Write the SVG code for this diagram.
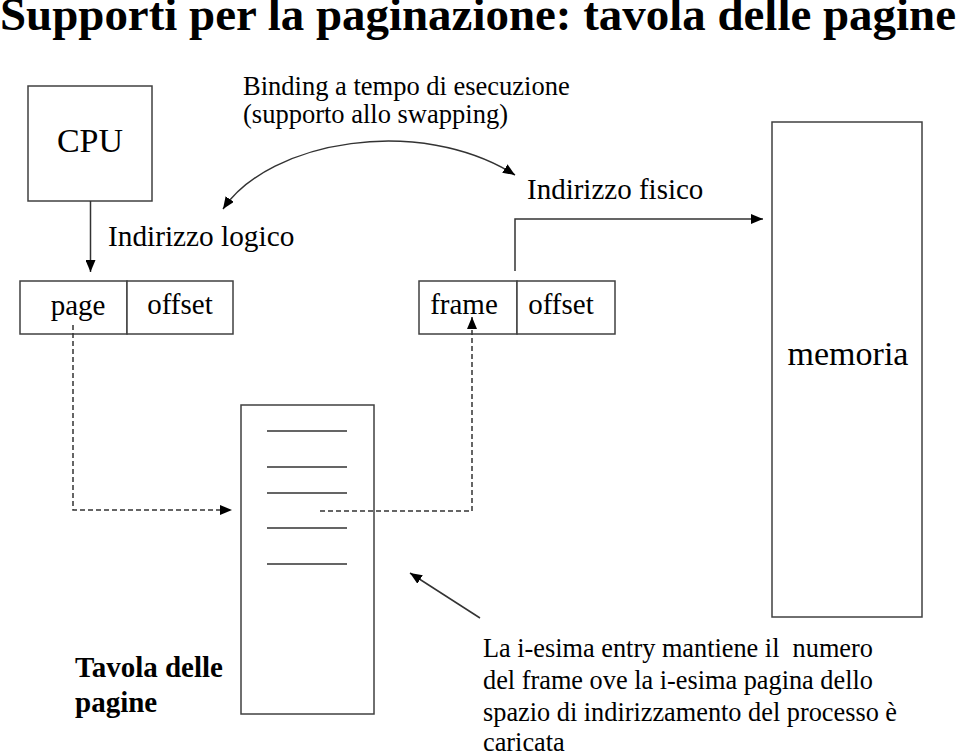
<svg xmlns="http://www.w3.org/2000/svg" width="960" height="753" viewBox="0 0 960 753">
<style>
.box{fill:#fff;stroke:#404040;stroke-width:1.5}
.ln{fill:none;stroke:#333;stroke-width:1.5}
.dash{fill:none;stroke:#333;stroke-width:1.5;stroke-dasharray:5,3}
.t{font-family:"Liberation Serif","Times New Roman",serif;fill:#000}
.b{font-weight:bold}
</style>
<defs>
<marker id="ah" viewBox="0 0 12 10" refX="12" refY="5" markerWidth="12" markerHeight="10" markerUnits="userSpaceOnUse" orient="auto-start-reverse">
<path d="M0,0 L12,5 L0,10 z" fill="#000"/>
</marker>
</defs>
<rect width="960" height="753" fill="#fff"/>
<text class="t b" x="0" y="30" font-size="46" textLength="956" lengthAdjust="spacingAndGlyphs">Supporti per la paginazione: tavola delle pagine</text>

<g id="cpu">
<rect class="box" x="28" y="86" width="124" height="115"/>
<text class="t" x="90" y="152" font-size="34" text-anchor="middle">CPU</text>
</g>

<g id="binding-label">
<text class="t" x="243" y="95" font-size="26.5">Binding a tempo di esecuzione</text>
<text class="t" x="243" y="123" font-size="26.5">(supporto allo swapping)</text>
</g>

<g id="logical-label">
<text class="t" x="108" y="246" font-size="29.3">Indirizzo logico</text>
</g>

<g id="physical-label">
<text class="t" x="527" y="199" font-size="29">Indirizzo fisico</text>
</g>

<g id="logical-address">
<rect class="box" x="20" y="281" width="107" height="53"/>
<rect class="box" x="127" y="281" width="106" height="53"/>
<text class="t" x="78" y="315" font-size="29" text-anchor="middle">page</text>
<text class="t" x="180" y="314" font-size="29" text-anchor="middle">offset</text>
</g>

<g id="physical-address">
<rect class="box" x="419" y="281" width="98" height="53"/>
<rect class="box" x="517" y="281" width="98" height="53"/>
<text class="t" x="464" y="314" font-size="29" text-anchor="middle">frame</text>
<text class="t" x="561" y="314" font-size="29" text-anchor="middle">offset</text>
</g>

<g id="memoria">
<rect class="box" x="772" y="122" width="150" height="495"/>
<text class="t" x="848" y="365" font-size="34" text-anchor="middle">memoria</text>
</g>

<g id="page-table">
<rect class="box" x="241" y="405" width="133" height="309"/>
<path class="ln" d="M267,431 H347 M267,467 H347 M267,493 H347 M267,528 H347 M267,564 H347"/>
</g>

<g id="page-table-label">
<text class="t b" x="75" y="677" font-size="29">Tavola delle</text>
<text class="t b" x="75" y="712" font-size="29">pagine</text>
</g>

<g id="entry-note">
<text class="t" x="483" y="657" font-size="26.3" xml:space="preserve">La i-esima entry mantiene il  numero</text>
<text class="t" x="483" y="689" font-size="26.3">del frame ove la i-esima pagina dello</text>
<text class="t" x="483" y="721" font-size="26.3">spazio di indirizzamento del processo è</text>
<text class="t" x="483" y="751" font-size="26.3">caricata</text>
</g>

<g id="connectors">
<path class="ln" d="M90.5,201 V272" marker-end="url(#ah)"/>
<path class="ln" d="M223,209 C270,140 420,115 515,175" marker-start="url(#ah)" marker-end="url(#ah)"/>
<path class="ln" d="M515,271 V219 H763" marker-end="url(#ah)"/>
<path class="dash" d="M73,325 V510 H232" marker-end="url(#ah)"/>
<path class="dash" d="M320,511 H472 V317" marker-end="url(#ah)"/>
<path class="ln" d="M480,618 L410,573" marker-end="url(#ah)"/>
</g>
</svg>
